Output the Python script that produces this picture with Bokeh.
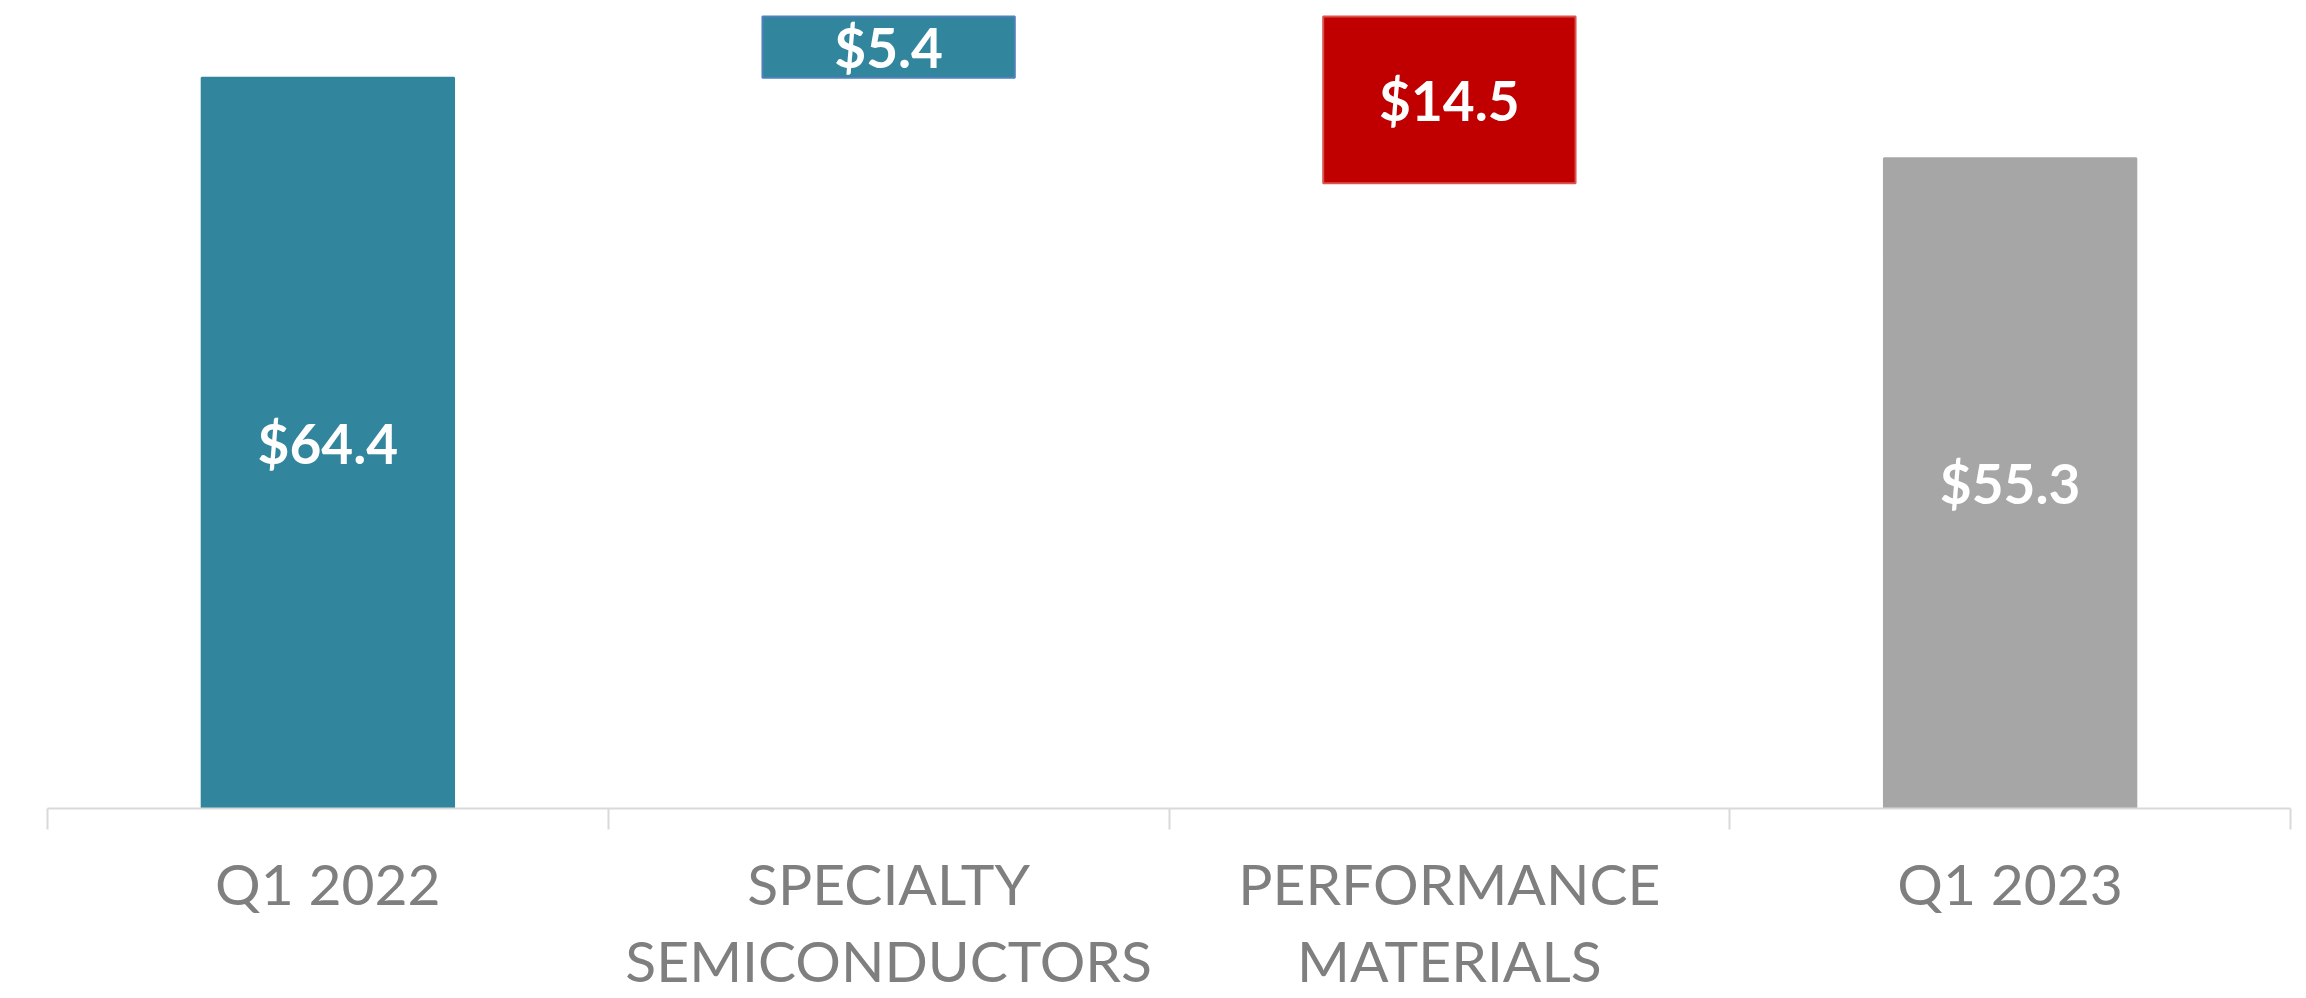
from bokeh.plotting import figure
from bokeh.models import FixedTicker, LinearAxis, Range1d, ColumnDataSource
from bokeh.core.properties import value
from bokeh.embed import file_html
from bokeh.resources import INLINE

# ---- data ----
categories = ["Q1 2022", "SPECIALTY\nSEMICONDUCTORS", "PERFORMANCE\nMATERIALS", "Q1 2023"]
bar_bottom = [0.0, 64.4, 55.1, 0.0]
bar_top = [64.4, 69.8, 69.8, 57.3]
value_labels = ["$64.4", "$5.4", "$14.5", "$55.3"]

# ---- styles ----
fill_colors = ["#31859C", "#31859C", "#C00000", "#A6A6A6"]
line_colors = ["#31859C", "#4F81BD", "#D9534F", "#A6A6A6"]

n = len(categories)
xs = [i + 0.5 for i in range(n)]
mids = [(b + t) / 2 for b, t in zip(bar_bottom, bar_top)]

src = ColumnDataSource(dict(x=xs, bottom=bar_bottom, top=bar_top, mid=mids,
                            label=value_labels, fill=fill_colors, line=line_colors))

p = figure(width=2306, height=998, x_range=Range1d(0, n), y_range=Range1d(0, 71.2),
           output_backend="svg", toolbar_location=None,
           x_axis_location=None, y_axis_location=None,
           min_border_left=47, min_border_right=16, min_border_top=0, min_border_bottom=190)
p.outline_line_color = None
p.xgrid.visible = False
p.ygrid.visible = False
p.background_fill_color = "white"
p.border_fill_color = "white"

p.vbar(x="x", bottom="bottom", top="top", width=0.45, fill_color="fill",
       line_color="line", line_width=2, source=src)

p.text(x="x", y="mid", text="label", source=src, text_color="white",
       text_font=value("Lato"), text_font_style="bold", text_font_size="55px",
       text_align="center", text_baseline="middle")

ax = LinearAxis(ticker=FixedTicker(ticks=xs, minor_ticks=list(range(n + 1))))
ax.major_label_overrides = {x: c for x, c in zip(xs, categories)}
ax.major_tick_line_color = None
ax.major_tick_out = 0
ax.major_tick_in = 0
ax.minor_tick_out = 21
ax.minor_tick_in = 0
ax.minor_tick_line_color = "#D9D9D9"
ax.minor_tick_line_width = 2
ax.axis_line_color = "#D9D9D9"
ax.axis_line_width = 2
ax.major_label_text_font = "Lato"
ax.major_label_text_font_size = "57px"
ax.major_label_text_color = "#7F7F7F"
ax.major_label_text_line_height = 1.14
ax.major_label_standoff = 19
p.add_layout(ax, "below")

open("out.html", "w").write(file_html(p, INLINE))
